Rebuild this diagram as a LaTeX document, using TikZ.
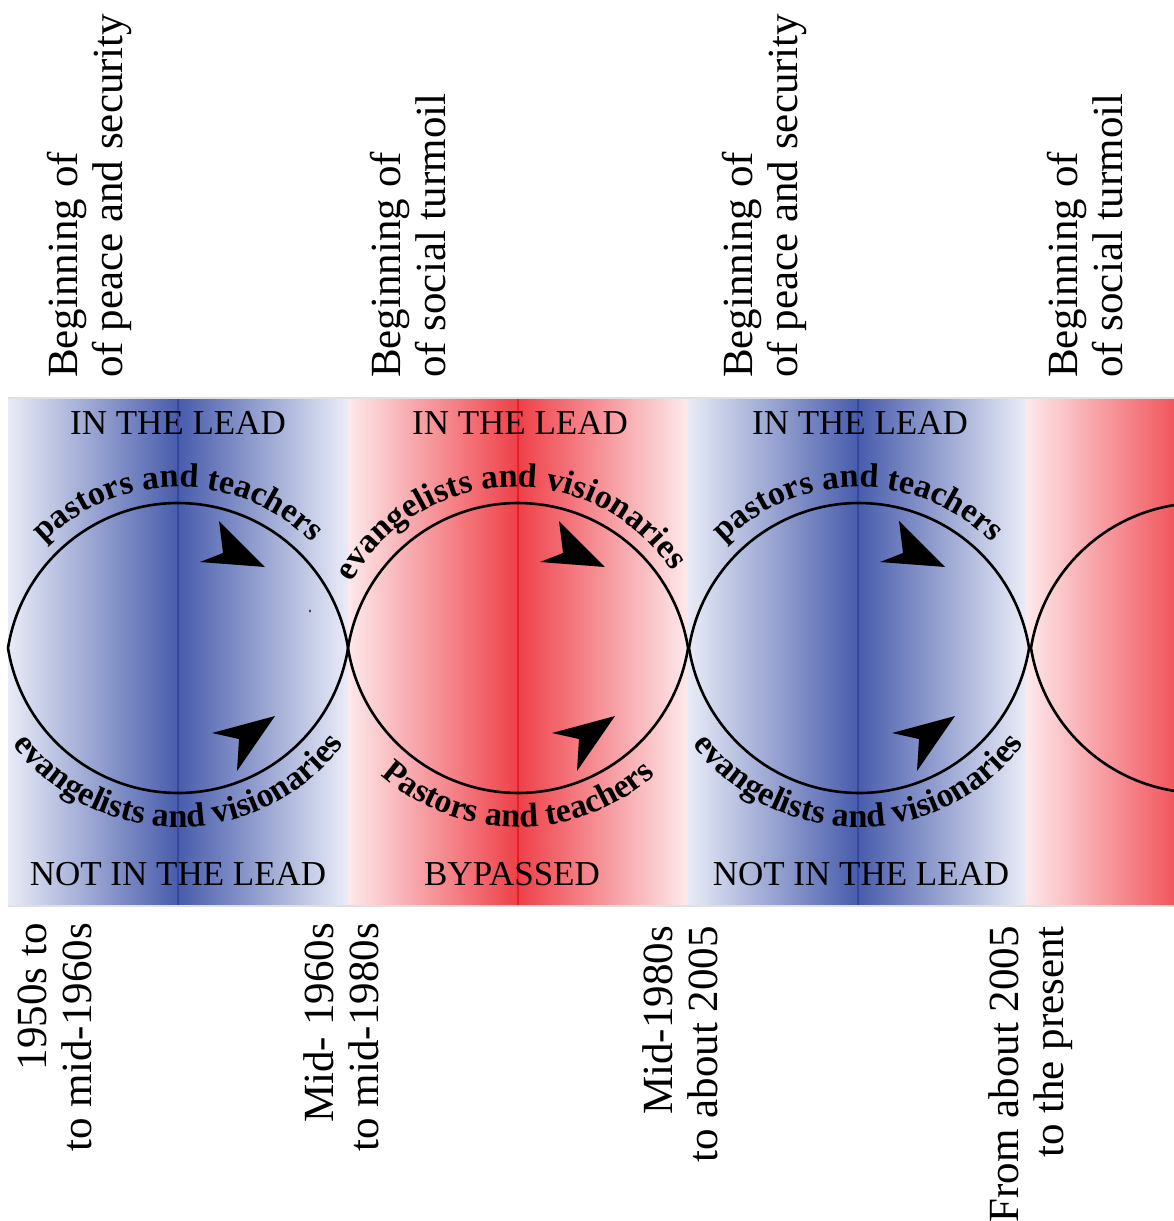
\documentclass[tikz,border=0pt]{standalone}
\usepackage{fontspec}
\setmainfont{Liberation Serif}
\usetikzlibrary{decorations.text,positioning}

\definecolor{blueedge}{RGB}{233,236,247}
\definecolor{bluedeep}{RGB}{72,92,172}
\definecolor{bluecore}{RGB}{52,72,160}
\definecolor{rededge}{RGB}{253,233,235}
\definecolor{reddeep}{RGB}{239,64,72}
\definecolor{redcore}{RGB}{232,30,40}

\newcommand{\arcfont}{\bfseries\fontsize{34}{34}\selectfont}

\begin{document}
\begin{tikzpicture}[x=1pt,y=1pt,
    lens/.style={line width=2.6pt,draw=black},
    core/.style={line width=2pt},
    stage/.style={anchor=base,inner sep=0pt,font=\fontsize{35}{36}\selectfont},
    era/.style={rotate=90,anchor=north west,align=left,inner sep=0pt,font=\fontsize{43}{45}\selectfont},
    period/.style={rotate=90,anchor=north east,align=right,inner sep=0pt,font=\fontsize{43}{45}\selectfont},
    arctext/.style={decorate,decoration={text along path,text align=center,text={|\arcfont|#1}}},
    upmark/.pic={\fill (41,127) -- (87,81) -- (22,86) -- (45,95) -- cycle;},
    lowmark/.pic={\fill (97,-68) -- (34,-85) -- (61,-91) -- (59,-123) -- cycle;}]

    \useasboundingbox (0,0) rectangle (1174,-1221);
    \clip (0,0) rectangle (1174,-1221);

    % coloured bands
    \shade[left color=blueedge,right color=bluedeep] (8,-398) rectangle (178,-906);
    \shade[left color=bluedeep,right color=blueedge] (178,-398) rectangle (348,-906);
    \shade[left color=rededge,right color=reddeep] (348,-398) rectangle (518,-906);
    \shade[left color=reddeep,right color=rededge] (518,-398) rectangle (687,-906);
    \shade[left color=blueedge,right color=bluedeep] (687,-398) rectangle (858,-906);
    \shade[left color=bluedeep,right color=blueedge] (858,-398) rectangle (1026,-906);
    \shade[left color=rededge,right color=reddeep] (1026,-398) rectangle (1196,-906);
    \draw[core,bluecore] (178,-398) -- (178,-906);
    \draw[core,redcore] (518,-398) -- (518,-906);
    \draw[core,bluecore] (858,-398) -- (858,-906);
    \draw[black!12,line width=1.5pt] (8,-398) -- (1174,-398) (8,-906) -- (1174,-906);

    % lenses
    \draw[lens] (8,-648) arc[start angle=170.9,end angle=9.1,radius=172.2pt] arc[start angle=350.9,end angle=189.1,radius=172.2pt] -- cycle;
    \draw[lens] (348,-648) arc[start angle=170.9,end angle=9.1,radius=172.2pt] arc[start angle=350.9,end angle=189.1,radius=172.2pt] -- cycle;
    \draw[lens] (689,-648) arc[start angle=170.9,end angle=9.1,radius=172.2pt] arc[start angle=350.9,end angle=189.1,radius=172.2pt] -- cycle;
    \draw[lens] (1031,-648) arc[start angle=170.9,end angle=9.1,radius=172.2pt] arc[start angle=350.9,end angle=189.1,radius=172.2pt] -- cycle;

    \pic at (178,-648) {upmark};
    \pic at (178,-648) {lowmark};
    \pic at (518,-648) {upmark};
    \pic at (518,-648) {lowmark};
    \pic at (858,-648) {upmark};
    \pic at (858,-648) {lowmark};
    \fill (310,-611) ellipse (0.8pt and 1.6pt);

    % curved captions
    \coordinate (top1) at ([shift={(165:188)}]178,-675);
    \coordinate (top2) at ([shift={(167:188)}]515,-675);
    \coordinate (top3) at ([shift={(165:188)}]858,-675);
    \coordinate (bot1) at ([shift={(195:207)}]178,-620);
    \coordinate (bot2) at ([shift={(195:207)}]518,-620);
    \coordinate (bot3) at ([shift={(195:207)}]858,-620);
    \path[arctext=pastors and teachers] (top1) arc[start angle=165,end angle=15,radius=188pt];
    \path[arctext=evangelists and visionaries] (top2) arc[start angle=167,end angle=17,radius=188pt];
    \path[arctext=pastors and teachers] (top3) arc[start angle=165,end angle=15,radius=188pt];
    \path[arctext=evangelists and visionaries] (bot1) arc[start angle=195,end angle=345,radius=207pt];
    \path[arctext=Pastors and teachers] (bot2) arc[start angle=195,end angle=345,radius=207pt];
    \path[arctext=evangelists and visionaries] (bot3) arc[start angle=195,end angle=345,radius=207pt];

    % band labels
    \node[stage] (lead1) at (178,-434) {IN THE LEAD};
    \node[stage] (lead2) at (520,-434) {IN THE LEAD};
    \node[stage] (lead3) at (860,-434) {IN THE LEAD};
    \node[stage] (side1) at (178,-885) {NOT IN THE LEAD};
    \node[stage] (side2) at (512,-885) {BYPASSED};
    \node[stage] (side3) at (861,-885) {NOT IN THE LEAD};

    % eras above
    \node[era] (era1) at (47,-378) {Beginning of\\of peace and security};
    \node[era] (era2) at (370,-378) {Beginning of\\of social turmoil};
    \node[era] (era3) at (722,-378) {Beginning of\\of peace and security};
    \node[era] (era4) at (1047,-378) {Beginning of\\of social turmoil};

    % periods below
    \node[period] (per1) at (18,-923) {1950s to\\to mid-1960s};
    \node[period] (per2) at (303,-923) {Mid- 1960s\\to mid-1980s};
    \node[period] (per3) at (642,-926) {Mid-1980s\\to about 2005};
    \node[period] (per4) at (988,-926) {From about 2005\\to the present};
\end{tikzpicture}
\end{document}
